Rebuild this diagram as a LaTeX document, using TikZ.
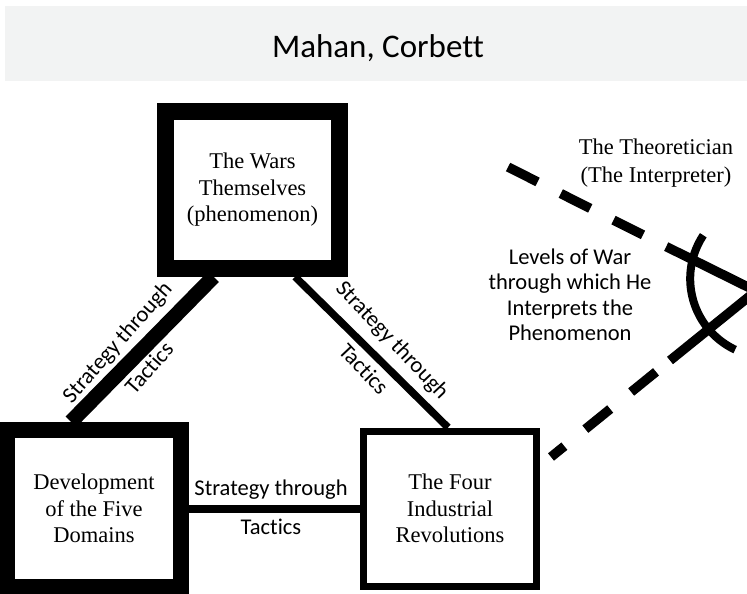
\documentclass[tikz,border=0pt]{standalone}
\usepackage{fontspec}
\setmainfont{Liberation Serif}
\newfontfamily\calib[Ligatures=NoCommon]{Carlito}
\definecolor{bannergray}{RGB}{242,243,243}
\begin{document}
\begin{tikzpicture}[x=1pt, y=-1pt,
  serifbig/.style={font=\fontsize{22.5}{26.5}\selectfont},
  box/.style={draw=black, fill=white, rectangle, minimum width=174pt,
    minimum height=157pt, inner sep=0pt, align=center, serifbig},
  heavybox/.style={box, line width=16.5pt},
  lightbox/.style={box, line width=7pt},
  link/.style={draw=black, line cap=butt},
  tag/.style={font=\calib\fontsize{22.5}{25.5}\selectfont, inner sep=0pt},
  eyeline/.style={line width=9.5pt, line cap=butt},
]
\useasboundingbox (0,0) rectangle (747,594);
\clip (0,0) rectangle (747,594);

% title banner
\fill[bannergray] (5,6) rectangle (747,81);
\node[font=\calib\fontsize{33}{40}\selectfont, anchor=base, inner sep=0pt]
  (title) at (378,57.6) {Mahan, Corbett};

% the three boxes
\node[heavybox] (wars) at (252.5,190) {The Wars\\Themselves\\(phenomenon)};
\node[heavybox] (domains) at (94,508.5) {Development\\of the Five\\Domains};
\node[lightbox, minimum width=173pt, minimum height=155pt]
  (revs) at (450,508.5) {The Four\\Industrial\\Revolutions};

% connectors
\draw[link, line width=15pt] ([xshift=-39pt]wars.south) -- ([xshift=-23pt]domains.north);
\draw[link, line width=7.5pt] ([xshift=42.6pt]wars.south) -- ([xshift=-2pt]revs.north);
\draw[link, line width=8pt] (domains.east) -- (revs.west);

% connector labels
\node[tag, rotate=48.6] (lstrat) at (118,343) {Strategy through};
\node[tag, rotate=48.6] (ltact) at (149,368) {Tactics};
\node[tag, rotate=-46.6] (rstrat) at (391.7,340.8) {Strategy through};
\node[tag, rotate=-46.6] (rtact) at (364,369) {Tactics};
\node[tag, anchor=base] (hstrat) at (271,495) {Strategy through};
\node[tag, anchor=base] (htact) at (271,534) {Tactics};

% the observer
\node[align=center, inner sep=0pt, font=\fontsize{22.5}{28}\selectfont]
  (theorist) at (656,163) {The Theoretician\\(The Interpreter)};
\node[tag, align=center] (levels) at (570,295)
  {Levels of War\\through which He\\Interprets the\\Phenomenon};

% eye: lines of sight and lens
\coordinate (apex) at (756,291);
\coordinate (upperbreak) at (666.2,246.6);
\coordinate (upperend) at (508,167);
\coordinate (lowerbreak) at (670,360.5);
\coordinate (lowerend) at (551,457);
\draw[eyeline, line join=miter] (upperbreak) -- (apex) -- (lowerbreak);
\draw[eyeline, dash pattern=on 33pt off 26pt, dash phase=33pt] (upperbreak) -- (upperend);
\draw[eyeline, dash pattern=on 32pt off 27pt, dash phase=41pt] (lowerbreak) -- (lowerend);
\draw[line width=8pt] plot[domain=115.3:213.6, samples=60]
  ({768.7+78.5*cos(\x)}, {278.7+78.5*sin(\x)});
\end{tikzpicture}
\end{document}
